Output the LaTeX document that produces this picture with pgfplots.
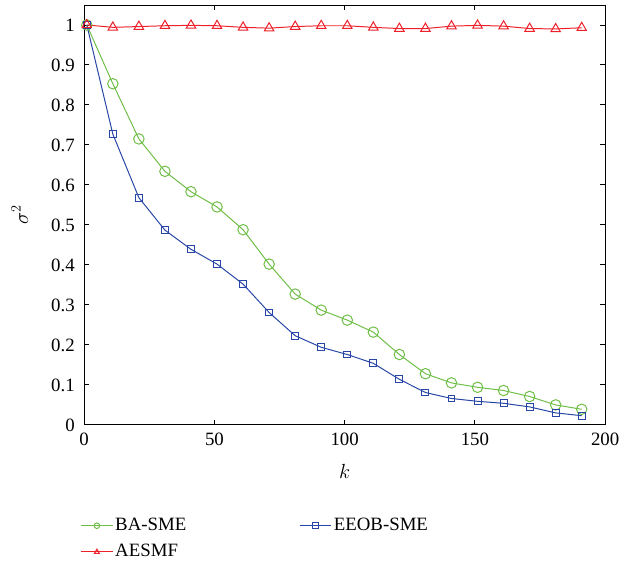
\documentclass[border=0pt]{standalone}
\usepackage{fontspec}
\setmainfont{Liberation Serif}
\usepackage{pgfplots}
\pgfplotsset{compat=1.18}
\definecolor{cgreen}{RGB}{110,190,70}
\definecolor{cblue}{RGB}{40,70,165}
\definecolor{cred}{RGB}{238,32,42}
\begin{document}
\fontsize{19bp}{22bp}\selectfont
\begin{tikzpicture}
\begin{axis}[
  name=ax,
  scale only axis,
  width=526bp, height=424bp,
  xmin=0, xmax=200, ymin=0, ymax=1.05,
  xtick={0,50,100,150,200},
  ytick={0,0.1,0.2,0.3,0.4,0.5,0.6,0.7,0.8,0.9,1},
  yticklabels={0,0.1,0.2,0.3,0.4,0.5,0.6,0.7,0.8,0.9,1},
  tick align=inside,
  major tick length=5bp,
  axis line style={line width=0.9pt},
  tick style={line width=0.9pt, black},
  /pgf/number format/assume math mode=true,
  xticklabel style={font=\fontsize{19bp}{22bp}\selectfont, yshift=-2bp},
  yticklabel style={font=\fontsize{19bp}{22bp}\selectfont, xshift=-3bp},
  xlabel={$k$},
  ylabel={$\sigma^2$},
  every axis x label/.style={at={(rel axis cs:0.5,0)}, anchor=center, yshift=-47bp, font=\fontsize{21bp}{22bp}\selectfont},
  every axis y label/.style={at={(rel axis cs:0,0.5)}, anchor=center, xshift=-65bp, rotate=90, font=\fontsize{21bp}{22bp}\selectfont},
  legend columns=2,
  legend style={draw=none, at={(-0.013,-0.212)}, anchor=north west,
    font=\fontsize{19bp}{22bp}\selectfont,
    /tikz/column 2/.style={column sep=112bp},
    row sep=7bp},
  legend cell align=left,
  legend image code/.code={%
    \draw[#1, mark repeat=2, mark phase=2, mark size=2.8bp] plot coordinates {(0bp,0bp) (16bp,0bp) (32bp,0bp)};},
  every axis plot/.append style={line width=1pt},
]
\addplot[color=cgreen, mark=o, mark size=5.3bp] coordinates {
(1,1.0) (11,0.853) (21,0.715) (31,0.634) (41,0.583) (51,0.545) (61,0.488) (71,0.402) (81,0.327) (91,0.287)
(101,0.262) (111,0.232) (121,0.176) (131,0.128) (141,0.105) (151,0.094) (161,0.086) (171,0.071) (181,0.050) (191,0.039)};
\addlegendentry{BA-SME}
\addplot[color=cblue, mark=square, mark size=3.5bp] coordinates {
(1,1.0) (11,0.727) (21,0.568) (31,0.487) (41,0.439) (51,0.402) (61,0.352) (71,0.281) (81,0.223) (91,0.194)
(101,0.176) (111,0.154) (121,0.114) (131,0.081) (141,0.066) (151,0.059) (161,0.054) (171,0.045) (181,0.030) (191,0.023)};
\addlegendentry{EEOB-SME}
\addplot[color=cred, mark=triangle, mark size=5.5bp] coordinates {
(1,1.0) (11,0.994) (21,0.996) (31,0.998) (41,0.999) (51,0.998) (61,0.994) (71,0.992) (81,0.996) (91,0.998)
(101,0.998) (111,0.994) (121,0.991) (131,0.991) (141,0.997) (151,0.999) (161,0.997) (171,0.991) (181,0.990) (191,0.993)};
\addlegendentry{AESMF}
\end{axis}
\pgfresetboundingbox
\path ([xshift=-85bp,yshift=-142bp]ax.south west) rectangle ([xshift=17bp,yshift=5bp]ax.north east);
\end{tikzpicture}
\end{document}
